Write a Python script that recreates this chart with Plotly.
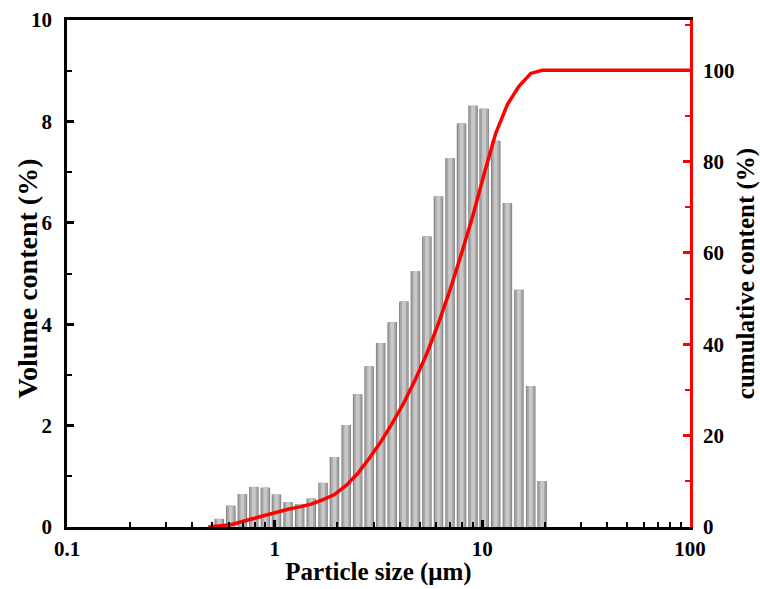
import numpy as np
import plotly.graph_objects as go

# ---- data ----
sizes = [0.541, 0.615, 0.699, 0.794, 0.902, 1.02, 1.16, 1.32, 1.50, 1.71,
         1.94, 2.21, 2.51, 2.85, 3.24, 3.68, 4.19, 4.76, 5.41, 6.15,
         6.99, 7.94, 9.02, 10.2, 11.6, 13.2, 15.0, 17.1, 19.4]
volume = [0.16, 0.42, 0.65, 0.79, 0.775, 0.64, 0.49, 0.45, 0.56, 0.87,
          1.38, 2.01, 2.62, 3.17, 3.63, 4.04, 4.45, 5.05, 5.73, 6.52,
          7.28, 7.96, 8.31, 8.25, 7.62, 6.39, 4.68, 2.78, 0.906]
cum_sizes = [0.479, 0.541, 0.615, 0.699, 0.794, 0.902, 1.02, 1.16, 1.32, 1.50,
             1.71, 1.94, 2.21, 2.51, 2.85, 3.24, 3.68, 4.19, 4.76, 5.41,
             6.15, 6.99, 7.94, 9.02, 10.2, 11.6, 13.2, 15.0, 17.1, 19.4, 100]
cumulative = [0.0, 0.2, 0.5, 1.2, 1.9, 2.7, 3.3, 3.9, 4.4, 5.0,
              6.0, 7.1, 9.1, 11.7, 15.0, 18.6, 22.7, 27.2, 32.3, 38.0,
              44.6, 51.9, 59.9, 68.3, 77.3, 86.2, 92.5, 96.5, 99.3, 100.0, 100.0]
x_ticks = [0.1, 1, 10, 100]
x_tick_text = ["0.1", "1", "10", "100"]

FONT = "Liberation Serif, Times New Roman, serif"
logx = np.log10(sizes)

fig = go.Figure()
# cylindrical-looking bars: layered widths
for w, col in [(0.046, "#808080"), (0.037, "#a8a8a8"), (0.018, "#c8c8c8")]:
    fig.add_trace(go.Bar(x=logx, y=volume, width=w, marker=dict(color=col, line=dict(width=0)),
                         xaxis="x", yaxis="y", showlegend=False, hoverinfo="skip"))

fig.add_trace(go.Scatter(x=cum_sizes, y=cumulative, mode="lines",
                         line=dict(color="#ff0000", width=3.5),
                         xaxis="x2", yaxis="y2", showlegend=False))

tickfont = dict(family=FONT, size=21, color="black", weight="bold")

fig.update_layout(
    width=760, height=589,
    margin=dict(l=67, r=70, t=20, b=62),
    paper_bgcolor="white", plot_bgcolor="white",
    barmode="overlay",
    font=dict(family=FONT, size=21, color="black"),
    xaxis=dict(range=[-1, 2], showgrid=False, zeroline=False, showline=True,
               linecolor="black", linewidth=2.5, mirror=True, ticks="",
               showticklabels=False, automargin=False),
    xaxis2=dict(type="log", range=[-1, 2], overlaying="x", side="bottom", anchor="y",
                showgrid=False, zeroline=False, showline=False, automargin=False,
                tickvals=x_ticks, ticktext=x_tick_text,
                ticks="inside", ticklen=7, tickwidth=2.5, tickcolor="black",
                minor=dict(ticks="inside", ticklen=5, tickwidth=2, tickcolor="black",
                           dtick="D1", showgrid=False),
                ticklabelstandoff=7,
                tickfont=tickfont,
                title=dict(text="<b>Particle size (μm)</b>", font=dict(family=FONT, size=25),
                           standoff=2)),
    yaxis=dict(range=[0, 10], showgrid=False, zeroline=False, showline=True,
               linecolor="black", linewidth=2.5, dtick=2, tick0=0, automargin=False,
               ticks="inside", ticklen=7, tickwidth=2.5, tickcolor="black",
               minor=dict(ticks="inside", ticklen=5, tickwidth=2, tickcolor="black",
                          dtick=1, showgrid=False),
               ticklabelstandoff=8,
               tickfont=tickfont),
    yaxis2=dict(range=[0, 111], overlaying="y", side="right", anchor="x",
                showgrid=False, zeroline=False, showline=True, automargin=False,
                linecolor="#ff0000", linewidth=2.5, dtick=20, tick0=0,
                ticks="inside", ticklen=7, tickwidth=2.5, tickcolor="#ff0000",
                minor=dict(ticks="inside", ticklen=5, tickwidth=2, tickcolor="#ff0000",
                           dtick=10, showgrid=False),
                ticklabelstandoff=6,
                tickfont=tickfont,
                title=dict(text="<b>cumulative content (%)</b>", font=dict(family=FONT, size=25),
                           standoff=4)),
    annotations=[dict(text="<b>Volume content (%)</b>", xref="paper", yref="paper",
                      x=-0.0626, y=0.49, xanchor="center", yanchor="middle",
                      textangle=-90, showarrow=False,
                      font=dict(family=FONT, size=28, color="black"))],
)

fig.write_html("out.html", config={"displayModeBar": False},
               post_script="document.body.style.margin='0px';")
